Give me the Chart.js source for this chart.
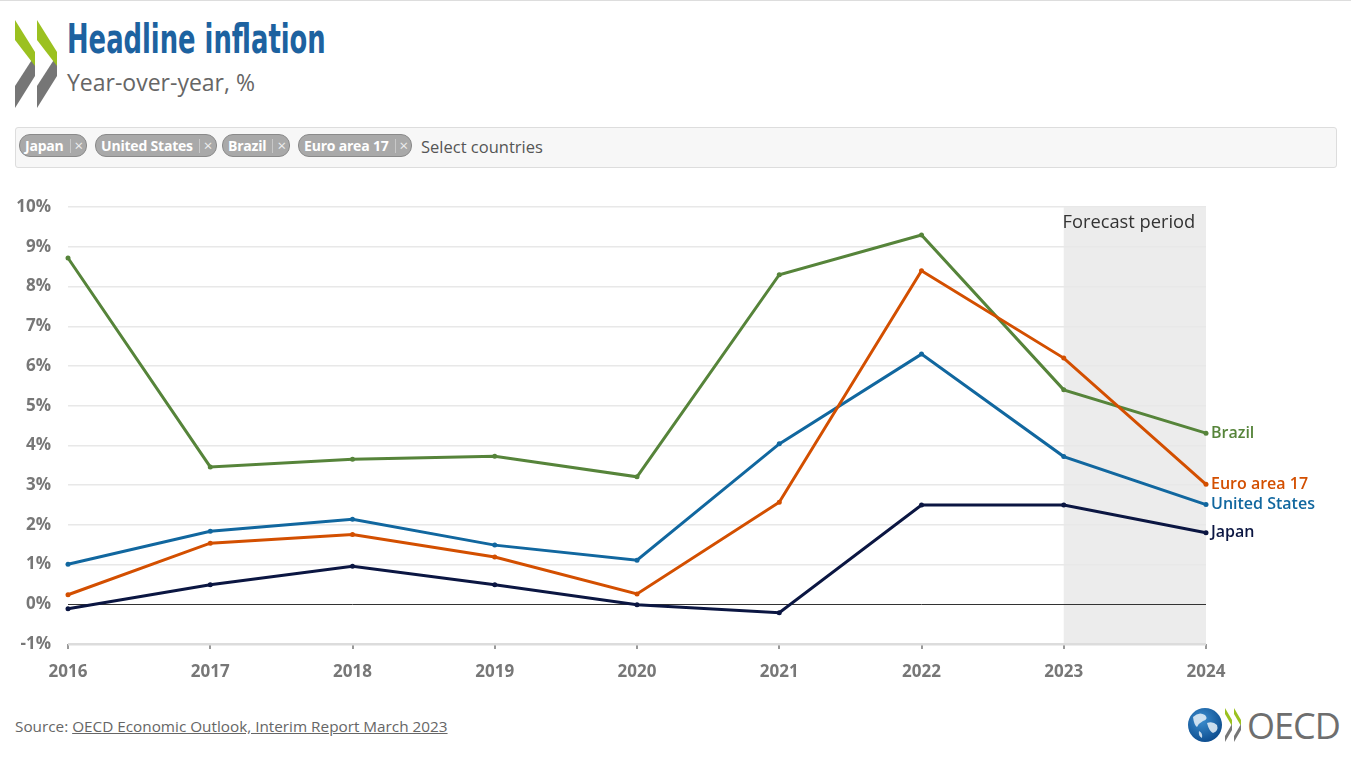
<!DOCTYPE html>
<html>
<head>
<meta charset="utf-8">
<script src="https://cdn.jsdelivr.net/npm/chart.js@4.4.0/dist/chart.umd.min.js"></script>
<style>
  body { margin: 0; width: 1351px; height: 761px; background: #fff; font-family: "Open Sans", sans-serif; position: relative; overflow: hidden; }
  .topline { position: absolute; left: 0; top: 0; width: 1351px; height: 1px; background: #ddd; }
  .logo { position: absolute; left: 0; top: 0; }
  .title { position: absolute; left: 67px; top: 15px; font-family: "Liberation Sans Narrow", "DejaVu Sans Condensed", sans-serif; font-weight: bold; font-size: 41px; color: #1d62a0; white-space: nowrap; transform-origin: left top; }
  .subtitle { position: absolute; left: 67px; top: 66px; font-size: 23px; color: #666; }
  .picker { position: absolute; left: 15px; top: 127px; width: 1320px; height: 39px; border: 1px solid #ddd; border-radius: 3px; background: #f7f7f7; }
  .chip { position: absolute; top: 6px; height: 21px; border: 1px solid #8a8a8a; border-radius: 11px; background: #a9a9a9; color: #fff; font-weight: 700; font-size: 14px; line-height: 21px; padding-left: 5px; box-sizing: content-box; white-space: nowrap; letter-spacing: -0.2px; }
  .chip .sep { display: inline-block; width: 1px; height: 14px; background: #c8c8c8; vertical-align: -2px; margin: 0 4px 0 6px; }
  .chip .x { font-weight: 400; font-size: 15px; color: #eee; }
  .ph { position: absolute; left: 405px; top: 7px; font-size: 16.5px; color: #555; }
  #wrap { position: absolute; left: 0; top: 180px; width: 1351px; height: 510px; }
  .source { position: absolute; left: 15px; top: 716px; font-size: 15.3px; color: #666; }
  .source u { text-decoration: underline; }
  .brand { position: absolute; left: 1185px; top: 703px; }
</style>
</head>
<body>
<div class="topline"></div>
<svg class="logo" width="70" height="115">
  <polygon points="15,86 35,55 35,76 15,108" fill="#767676"/>
  <polygon points="37,86 57,55 57,76 37,108" fill="#767676"/>
  <polygon points="15,20 35,52 35,66 15,40" fill="#9bc120"/>
  <polygon points="37,20 57,52 57,66 37,40" fill="#9bc120"/>
</svg>
<div class="title" id="title">Headline inflation</div>
<div class="subtitle">Year-over-year, %</div>
<div class="picker">
  <div class="chip" style="left:3px">Japan<span class="sep"></span><span class="x">×</span>&nbsp;</div>
  <div class="chip" style="left:79px">United States<span class="sep"></span><span class="x">×</span>&nbsp;</div>
  <div class="chip" style="left:206px">Brazil<span class="sep"></span><span class="x">×</span>&nbsp;</div>
  <div class="chip" style="left:282px">Euro area 17<span class="sep"></span><span class="x">×</span>&nbsp;</div>
  <div class="ph">Select countries</div>
</div>
<div id="wrap"><canvas id="chart"></canvas></div>
<div class="source">Source: <u>OECD Economic Outlook, Interim Report March 2023</u></div>
<svg class="brand" width="160" height="44">
  <defs>
    <radialGradient id="g" cx="40%" cy="35%" r="70%">
      <stop offset="0" stop-color="#3d8fd0"/>
      <stop offset="1" stop-color="#0b4a8c"/>
    </radialGradient>
  </defs>
  <circle cx="20" cy="22" r="17" fill="url(#g)"/>
  <path d="M8 14 q6 -6 12 -2 q4 4 -2 6 q-4 2 -6 6 q-3 -2 -4 -10z M22 20 q6 -2 10 2 q2 6 -4 8 q-4 -2 -6 -10z M14 28 q4 2 3 7 q-4 -2 -3 -7z" fill="#e8f1f8" opacity="0.85"/>
  <polygon points="40,5 47,17 47,23 40,11" fill="#9bc120"/>
  <polygon points="49,5 56,17 56,23 49,11" fill="#9bc120"/>
  <polygon points="40,33 47,21 47,27 40,39" fill="#767676"/>
  <polygon points="49,33 56,21 56,27 49,39" fill="#767676"/>
  <text x="62" y="36" font-family="Open Sans, sans-serif" font-size="36" fill="#6e6e6e" letter-spacing="-1">OECD</text>
</svg>
<script>
// fit title to its width in the reference
const t = document.getElementById('title');
t.style.transform = 'scaleX(' + (259 / t.offsetWidth) + ')';

const years = ['2016', '2017', '2018', '2019', '2020', '2021', '2022', '2023', '2024'];
const euroArea = [0.24, 1.54, 1.76, 1.19, 0.26, 2.57, 8.40, 6.20, 3.02];
const brazil = [8.72, 3.46, 3.65, 3.73, 3.21, 8.30, 9.30, 5.40, 4.31];
const unitedStates = [1.01, 1.84, 2.14, 1.49, 1.11, 4.04, 6.30, 3.72, 2.51];
const japan = [-0.11, 0.49, 0.96, 0.49, -0.01, -0.21, 2.50, 2.50, 1.80];
const forecastStart = '2023';
const forecastEnd = '2024';

const font = 'Open Sans';

const forecastShade = {
  id: 'forecastShade',
  beforeDraw(chart) {
    const { ctx, chartArea, scales } = chart;
    const x0 = scales.x.getPixelForValue(years.indexOf(forecastStart));
    const x1 = scales.x.getPixelForValue(years.indexOf(forecastEnd));
    ctx.save();
    ctx.fillStyle = '#ececec';
    ctx.fillRect(x0, chartArea.top, x1 - x0, chartArea.bottom - chartArea.top);
    ctx.font = '18.3px "' + font + '"';
    ctx.fillStyle = '#333';
    ctx.textAlign = 'center';
    ctx.textBaseline = 'middle';
    ctx.fillText('Forecast period', (x0 + x1) / 2 - 6, chartArea.top + 16);
    ctx.restore();
  }
};

const endLabels = {
  id: 'endLabels',
  afterDraw(chart) {
    const { ctx } = chart;
    ctx.save();
    ctx.font = '600 16px "' + font + '"';
    ctx.textBaseline = 'middle';
    chart.data.datasets.forEach((ds, i) => {
      const pts = chart.getDatasetMeta(i).data;
      const p = pts[pts.length - 1];
      ctx.fillStyle = ds.borderColor;
      ctx.fillText(ds.label, p.x + 5, p.y);
    });
    ctx.restore();
  }
};

function line(label, data, color) {
  return {
    label: label,
    data: data,
    borderColor: color,
    backgroundColor: color,
    borderWidth: 3,
    pointRadius: 2.5,
    pointBorderWidth: 0,
    pointHoverRadius: 3,
    tension: 0,
    fill: false
  };
}

new Chart(document.getElementById('chart'), {
  type: 'line',
  data: {
    labels: years,
    datasets: [
      line('Euro area 17', euroArea, '#d34f00'),
      line('Brazil', brazil, '#56843a'),
      line('United States', unitedStates, '#11679f'),
      line('Japan', japan, '#0b1642')
    ]
  },
  options: {
    responsive: true,
    maintainAspectRatio: false,
    animation: false,
    layout: { padding: { left: 0, right: 145, top: 25, bottom: 0 } },
    plugins: {
      legend: { display: false },
      tooltip: { enabled: false }
    },
    scales: {
      x: {
        offset: false,
        border: { display: false },
        grid: { drawOnChartArea: false, drawTicks: true, tickLength: 5, color: '#999', lineWidth: 2 },
        ticks: { color: '#777', font: { family: font, size: 17, weight: '700' }, padding: 13, maxRotation: 0 },
        afterFit(scale) { scale.height = 46; }
      },
      y: {
        min: -1,
        max: 10,
        border: { display: false },
        grid: {
          drawTicks: false,
          color: ctx => ctx.tick.value === 0 ? '#333' : (ctx.tick.value === -1 ? '#dcdcdc' : '#e8e8e8'),
          lineWidth: ctx => ctx.tick.value === 0 ? 1 : (ctx.tick.value === -1 ? 2.5 : 1.5)
        },
        ticks: {
          stepSize: 1,
          color: '#777',
          padding: 17,
          font: { family: font, size: 17, weight: '700' },
          callback: v => v + '%'
        },
        afterFit(scale) { scale.width = 68; }
      }
    }
  },
  plugins: [forecastShade, endLabels]
});
</script>
</body>
</html>
